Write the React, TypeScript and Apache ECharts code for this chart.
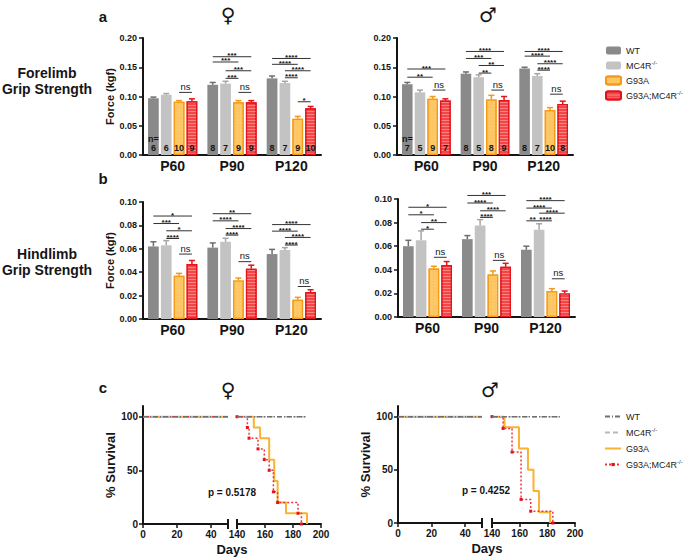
import React, { useEffect, useRef } from 'react';
import * as echarts from 'echarts';

const groups = ['P60', 'P90', 'P120'];
const genotypes = ['WT', 'MC4R', 'G93A', 'G93A;MC4R'];
const survNames = ['WT (survival)', 'MC4R (survival)', 'G93A (survival)', 'G93A;MC4R (survival)'];

// Forelimb grip strength, female: [WT, MC4R, G93A, G93A;MC4R] x [P60, P90, P120]
const foreFemaleMean = [[0.097, 0.120, 0.131], [0.103, 0.122, 0.123], [0.091, 0.090, 0.062], [0.092, 0.090, 0.080]];
const foreFemaleErr = [[0.002, 0.004, 0.004], [0.002, 0.004, 0.003], [0.002, 0.003, 0.004], [0.004, 0.003, 0.003]];
const foreFemaleN = [[6, 8, 8], [6, 7, 7], [10, 9, 9], [9, 9, 10]];
const foreFemaleSig: [number, number, number, number, string][] = [
  [0, 2, 3, 0.107, 'ns'],
  [1, 0, 3, 0.168, '***'], [1, 0, 2, 0.159, '***'], [1, 1, 3, 0.144, '***'], [1, 1, 2, 0.131, '***'], [1, 2, 3, 0.107, 'ns'],
  [2, 0, 3, 0.165, '****'], [2, 0, 2, 0.155, '****'], [2, 1, 3, 0.144, '****'], [2, 1, 2, 0.132, '****'], [2, 2, 3, 0.091, '*'],
];

// Forelimb grip strength, male
const foreMaleMean = [[0.121, 0.139, 0.148], [0.107, 0.133, 0.135], [0.096, 0.095, 0.077], [0.093, 0.094, 0.087]];
const foreMaleErr = [[0.003, 0.003, 0.002], [0.004, 0.004, 0.004], [0.004, 0.007, 0.004], [0.003, 0.006, 0.005]];
const foreMaleN = [[7, 8, 8], [5, 5, 7], [9, 8, 10], [7, 9, 8]];
const foreMaleSig: [number, number, number, number, string][] = [
  [0, 0, 3, 0.147, '***'], [0, 0, 2, 0.133, '**'], [0, 2, 3, 0.111, 'ns'],
  [1, 0, 3, 0.177, '****'], [1, 0, 2, 0.165, '***'], [1, 1, 3, 0.153, '**'], [1, 1, 2, 0.140, '**'], [1, 2, 3, 0.111, 'ns'],
  [2, 0, 3, 0.177, '****'], [2, 0, 2, 0.169, '****'], [2, 1, 3, 0.156, '****'], [2, 1, 2, 0.145, '****'], [2, 2, 3, 0.104, 'ns'],
];

// Hindlimb grip strength, female
const hindFemaleMean = [[0.062, 0.061, 0.0555], [0.063, 0.066, 0.059], [0.037, 0.033, 0.0165], [0.047, 0.043, 0.023]];
const hindFemaleErr = [[0.004, 0.004, 0.004], [0.004, 0.003, 0.002], [0.002, 0.002, 0.002], [0.003, 0.003, 0.002]];
const hindFemaleSig: [number, number, number, number, string][] = [
  [0, 0, 3, 0.088, '*'], [0, 0, 2, 0.0816, '***'], [0, 1, 3, 0.0754, '*'], [0, 1, 2, 0.0688, '****'], [0, 2, 3, 0.0555, 'ns'],
  [1, 0, 3, 0.090, '**'], [1, 0, 2, 0.0839, '****'], [1, 1, 3, 0.0773, '****'], [1, 1, 2, 0.0717, '****'], [1, 2, 3, 0.049, 'ns'],
  [2, 0, 3, 0.0807, '****'], [2, 0, 2, 0.0751, '****'], [2, 1, 3, 0.0697, '****'], [2, 1, 2, 0.0632, '****'], [2, 2, 3, 0.0278, 'ns'],
];

// Hindlimb grip strength, male
const hindMaleMean = [[0.060, 0.066, 0.057], [0.065, 0.0775, 0.074], [0.041, 0.036, 0.022], [0.044, 0.0425, 0.020]];
const hindMaleErr = [[0.005, 0.003, 0.003], [0.008, 0.005, 0.005], [0.002, 0.003, 0.002], [0.003, 0.003, 0.002]];
const hindMaleSig: [number, number, number, number, string][] = [
  [0, 0, 3, 0.093, '*'], [0, 0, 2, 0.0866, '*'], [0, 1, 3, 0.080, '**'], [0, 1, 2, 0.0744, '*'], [0, 2, 3, 0.0506, 'ns'],
  [1, 0, 3, 0.103, '***'], [1, 0, 2, 0.0966, '****'], [1, 1, 3, 0.090, '****'], [1, 1, 2, 0.0844, '****'], [1, 2, 3, 0.048, 'ns'],
  [2, 0, 3, 0.0986, '****'], [2, 0, 2, 0.0923, '****'], [2, 1, 3, 0.088, '****'], [2, 1, 2, 0.0815, '****'], [2, 0, 1, 0.0815, '**'], [2, 2, 3, 0.0324, 'ns'],
];

// Survival (days, % survival)
const survEarly = [[0, 100], [50, 100]];
const survFemaleCtrl = [[140, 100], [190, 100]];
const survFemaleG93A = [[140, 100], [152, 90], [156.5, 80], [163, 60], [166.6, 40], [169, 20], [175, 10], [190, 0]];
const survFemaleDbl = [[140, 100], [147.4, 90], [148.6, 80], [155, 70], [159.5, 60], [163, 50], [166, 30], [169, 20], [183.6, 10], [186, 0]];
const survMaleCtrl = [[140, 100], [189, 100]];
const survMaleG93A = [[140, 100], [149, 90], [159.5, 70], [166, 50], [170, 30], [174, 10], [182, 0]];
const survMaleDbl = [[140, 100], [148, 88.9], [154.5, 66.7], [161, 22.2], [168, 11.1], [184, 0]];

const FONT = "'Liberation Sans', Arial, Helvetica, sans-serif";
const INK = '#151515';
const CAT_GAP = 0.17;
const BAR_GAP = 0.2;

const barStyles: any[] = [
  { color: '#8a8a8a' },
  { color: '#c3c3c3' },
  {
    color: '#fcc15a', borderColor: '#f59a18', borderWidth: 1.2,
    decal: { symbol: 'rect', symbolSize: 1, dashArrayX: [1, 1], dashArrayY: [1, 1], color: 'rgba(255,235,170,0.55)', rotation: Math.PI / 4 },
  },
  {
    color: '#f34747', borderColor: '#e3131b', borderWidth: 1.2,
    decal: { symbol: 'rect', symbolSize: 1, dashArrayX: [1, 0], dashArrayY: [1, 2], color: 'rgba(255,170,170,0.6)' },
  },
];
const errColors = ['#6e6e6e', '#a6a6a6', '#f39818', '#e3131b'];

function barCenter(cx: number, bw: number, k: number) {
  const gw = bw * (1 - CAT_GAP);
  const w = gw / (4 + 3 * BAR_GAP);
  return cx - gw / 2 + k * w * (1 + BAR_GAP) + w / 2;
}

function barPanel(gi: number, means: number[][], errs: number[][], ns: number[][] | null, sig: [number, number, number, number, string][]) {
  const out: any[] = [];
  for (let k = 0; k < 4; k++) {
    out.push({
      name: genotypes[k], type: 'bar', xAxisIndex: gi, yAxisIndex: gi,
      data: means[k], barGap: '20%', barCategoryGap: '17%',
      itemStyle: barStyles[k],
      label: ns ? {
        show: true, position: 'insideBottom', distance: 3, fontSize: 9, fontWeight: 'bold', color: INK,
        fontFamily: FONT, lineHeight: 9,
        formatter: (p: any) => (k === 0 && p.dataIndex === 0 ? 'n=\n' : '') + ns[k][p.dataIndex],
      } : { show: false },
    });
  }
  const errData: number[][] = [];
  for (let k = 0; k < 4; k++) for (let g = 0; g < 3; g++) errData.push([g, k, means[k][g], errs[k][g]]);
  out.push({
    type: 'custom', xAxisIndex: gi, yAxisIndex: gi, z: 4, data: errData, encode: { x: 0, y: 2 },
    renderItem: (params: any, api: any) => {
      const g = api.value(0), k = api.value(1), m = api.value(2), e = api.value(3);
      const p0 = api.coord([g, m]);
      const p1 = api.coord([g, m + e]);
      const bw = api.size([1, 0])[0];
      const x = barCenter(p0[0], bw, k);
      return {
        type: 'group', children: [
          { type: 'line', shape: { x1: x, y1: p0[1], x2: x, y2: p1[1] }, style: { stroke: errColors[k], lineWidth: 1.5 } },
          { type: 'line', shape: { x1: x - 3, y1: p1[1], x2: x + 3, y2: p1[1] }, style: { stroke: errColors[k], lineWidth: 1.5 } },
        ],
      };
    },
  });
  out.push({
    type: 'custom', xAxisIndex: gi, yAxisIndex: gi, z: 4, clip: false,
    data: sig.map((s) => [s[0], s[1], s[2], s[3]]), encode: { x: 0, y: 3 },
    renderItem: (params: any, api: any) => {
      const g = api.value(0), i = api.value(1), j = api.value(2), y = api.value(3);
      const label = sig[params.dataIndex][4];
      const c = api.coord([g, y]);
      const bw = api.size([1, 0])[0];
      const x1 = barCenter(c[0], bw, i);
      const x2 = barCenter(c[0], bw, j);
      const isNs = label === 'ns';
      return {
        type: 'group', children: [
          { type: 'line', shape: { x1, y1: c[1], x2, y2: c[1] }, style: { stroke: '#333', lineWidth: 1 } },
          {
            type: 'text', x: (x1 + x2) / 2, y: isNs ? c[1] - 1 : c[1] + 2,
            style: {
              text: label, align: 'center', verticalAlign: 'bottom', fill: INK,
              fontSize: isNs ? 9.5 : 8, lineHeight: isNs ? 10 : 6,
              fontWeight: isNs ? 'normal' : 'bold', fontFamily: FONT,
            },
          },
        ],
      };
    },
  });
  return out;
}

function catX(gi: number) {
  return {
    type: 'category', gridIndex: gi, data: groups,
    axisLine: { lineStyle: { color: INK, width: 2 } },
    axisTick: { alignWithLabel: true, length: 4, lineStyle: { color: INK, width: 1.5 } },
    axisLabel: { fontSize: 14, fontWeight: 'bold', color: INK, fontFamily: FONT, margin: 4 },
  };
}

function barY(gi: number, max: number, interval: number, named: boolean) {
  return {
    type: 'value', gridIndex: gi, min: 0, max, interval,
    splitLine: { show: false },
    axisLine: { show: true, lineStyle: { color: INK, width: 2 } },
    axisTick: { show: true, length: 4, lineStyle: { color: INK, width: 1.5 } },
    axisLabel: { fontSize: 9, fontWeight: 'bold', color: INK, fontFamily: FONT, margin: 6, formatter: (v: number) => v.toFixed(2) },
    name: named ? 'Force (kgf)' : '', nameLocation: 'middle', nameGap: 26,
    nameTextStyle: { fontSize: 11, fontWeight: 'bold', color: INK, fontFamily: FONT },
  };
}

function survX(gi: number, min: number, max: number, ticks: number[], labels: number[]) {
  return {
    type: 'value', gridIndex: gi, min, max, interval: 20,
    splitLine: { show: false },
    axisLine: { lineStyle: { color: INK, width: 2 } },
    axisTick: { show: true, length: 4, customValues: ticks, lineStyle: { color: INK, width: 1.5 } },
    axisLabel: { customValues: labels, fontSize: 10, fontWeight: 'bold', color: INK, fontFamily: FONT, margin: 5 },
  };
}

function survY(gi: number, show: boolean) {
  return {
    type: 'value', gridIndex: gi, min: 0, max: 110, show,
    splitLine: { show: false },
    axisLine: { show: true, lineStyle: { color: INK, width: 2 } },
    axisTick: { show: true, length: 4, customValues: [0, 50, 100], lineStyle: { color: INK, width: 1.5 } },
    axisLabel: { customValues: [0, 50, 100], fontSize: 10, fontWeight: 'bold', color: INK, fontFamily: FONT, margin: 5 },
    name: show ? '% Survival' : '', nameLocation: 'middle', nameGap: 20,
    nameTextStyle: { fontSize: 13, fontWeight: 'bold', color: INK, fontFamily: FONT },
  };
}

const survStyles: any[] = [
  { color: '#6f6f6f', lineStyle: { color: '#6f6f6f', width: 1.5, type: [5, 2, 1, 2] }, symbol: 'none' },
  { color: '#b9b9b9', lineStyle: { color: '#b9b9b9', width: 1.5, type: [5, 3] }, symbol: 'none' },
  { color: '#f9b233', lineStyle: { color: '#f9b233', width: 2, type: 'solid' }, symbol: 'none' },
  { color: '#e3131b', lineStyle: { color: '#e8383d', width: 1.5, type: [2, 2] }, symbol: 'rect', symbolSize: 3 },
];

function survPanel(giLeft: number, giRight: number, ctrl: number[][], g93a: number[][], dbl: number[][]) {
  const out: any[] = [];
  const order = [2, 3, 1, 0];
  for (const k of order) {
    const st = survStyles[k];
    out.push({
      name: survNames[k], type: 'line', xAxisIndex: giLeft, yAxisIndex: giLeft, data: survEarly,
      lineStyle: st.lineStyle, itemStyle: { color: st.color }, symbol: st.symbol, showSymbol: false, z: 2 + (k < 2 ? 1 : 0),
    });
  }
  const rightData = [ctrl, ctrl, g93a, dbl];
  for (const k of order) {
    const st = survStyles[k];
    out.push({
      name: survNames[k], type: 'line', xAxisIndex: giRight, yAxisIndex: giRight, data: rightData[k],
      step: k >= 2 ? 'end' : undefined,
      lineStyle: st.lineStyle, itemStyle: { color: st.color }, symbol: st.symbol, symbolSize: st.symbolSize || 0,
      showSymbol: k === 3, z: 2 + (k < 2 ? 1 : 0),
    });
  }
  const breakMark = (gi: number, xv: number) => ({
    type: 'custom', xAxisIndex: gi, yAxisIndex: gi, clip: false, z: 5, data: [[xv, 0]], encode: { x: 0, y: 1 },
    renderItem: (params: any, api: any) => {
      const p = api.coord([api.value(0), api.value(1)]);
      return { type: 'line', shape: { x1: p[0], y1: p[1] - 5, x2: p[0], y2: p[1] + 5 }, style: { stroke: INK, lineWidth: 2 } };
    },
  });
  out.push(breakMark(giLeft, 50));
  out.push(breakMark(giRight, 140));
  return out;
}

const legendFmt = (name: string) => {
  const base = name.replace(' (survival)', '');
  if (base === 'MC4R') return 'MC4R{sup|-/-}';
  if (base === 'G93A;MC4R') return 'G93A;MC4R{sup|-/-}';
  return base;
};
const legendText = {
  fontSize: 9, fontFamily: FONT, color: '#222', lineHeight: 11,
  rich: { sup: { fontSize: 6, verticalAlign: 'top', lineHeight: 11, fontFamily: FONT, color: '#222', padding: [0, 0, 4, 0] } },
};

function txt(text: string, x: number, y: number, size: number, weight = 'bold', family = FONT) {
  return {
    type: 'text', x, y, silent: true,
    style: { text, fontSize: size, fontWeight: weight, fontFamily: family, fill: INK, align: 'center', verticalAlign: 'middle' },
  };
}

export default function App() {
  const ref = useRef<HTMLDivElement>(null);
  useEffect(() => {
    if (!ref.current) return;
    const chart = echarts.init(ref.current, null, { renderer: 'svg' });
    const SYM = "'DejaVu Sans', sans-serif";
    const option: any = {
      animation: false,
      backgroundColor: '#ffffff',
      grid: [
        { left: 143, top: 38, width: 178, height: 117 },
        { left: 397, top: 38, width: 176, height: 117 },
        { left: 143, top: 202, width: 178, height: 117 },
        { left: 398, top: 199, width: 177, height: 118 },
        { left: 143, top: 406, width: 85, height: 118 },
        { left: 237, top: 406, width: 84, height: 118 },
        { left: 398, top: 406, width: 84, height: 117 },
        { left: 492, top: 406, width: 83, height: 117 },
      ],
      xAxis: [
        catX(0), catX(1), catX(2), catX(3),
        survX(4, 0, 50, [0, 20, 40], [0, 20, 40]),
        survX(5, 140, 200, [160, 180, 200], [140, 160, 180, 200]),
        survX(6, 0, 50, [0, 20, 40], [0, 20, 40]),
        survX(7, 140, 200, [160, 180, 200], [140, 160, 180, 200]),
      ],
      yAxis: [
        barY(0, 0.2, 0.05, true), barY(1, 0.2, 0.05, false),
        barY(2, 0.1, 0.02, true), barY(3, 0.1, 0.02, false),
        survY(4, true), survY(5, false), survY(6, true), survY(7, false),
      ],
      legend: [
        {
          left: 600, top: 40, orient: 'vertical', itemWidth: 15, itemHeight: 8, itemGap: 4,
          data: genotypes, formatter: legendFmt, textStyle: legendText, selectedMode: false,
        },
        {
          left: 599, top: 406, orient: 'vertical', itemWidth: 16, itemHeight: 4, itemGap: 5,
          data: [
            { name: survNames[0], itemStyle: { opacity: 0 } },
            { name: survNames[1], itemStyle: { opacity: 0 } },
            { name: survNames[2], itemStyle: { opacity: 0 } },
            { name: survNames[3] },
          ],
          formatter: legendFmt, textStyle: legendText, selectedMode: false,
        },
      ],
      series: [
        ...barPanel(0, foreFemaleMean, foreFemaleErr, foreFemaleN, foreFemaleSig),
        ...barPanel(1, foreMaleMean, foreMaleErr, foreMaleN, foreMaleSig),
        ...barPanel(2, hindFemaleMean, hindFemaleErr, null, hindFemaleSig),
        ...barPanel(3, hindMaleMean, hindMaleErr, null, hindMaleSig),
        ...survPanel(4, 5, survFemaleCtrl, survFemaleG93A, survFemaleDbl),
        ...survPanel(6, 7, survMaleCtrl, survMaleG93A, survMaleDbl),
      ],
      graphic: [
        txt('a', 103, 16, 15),
        txt('\u2640', 228, 15, 20, 'normal', SYM),
        txt('\u2642', 488, 15, 20, 'normal', SYM),
        txt('b', 103, 178, 15),
        txt('c', 103, 387, 15),
        txt('\u2640', 228, 390, 20, 'normal', SYM),
        txt('\u2642', 490, 390, 20, 'normal', SYM),
        txt('Forelimb', 47, 73, 14),
        txt('Grip Strength', 47, 89, 14),
        txt('Hindlimb', 47, 254, 14),
        txt('Grip Strength', 47, 270, 14),
        txt('p = 0.5178', 232, 492, 10),
        txt('p = 0.4252', 486, 490, 10),
        txt('Days', 232, 549, 13),
        txt('Days', 487, 548, 13),
      ],
    };
    chart.setOption(option);
    return () => chart.dispose();
  }, []);
  return <div ref={ref} style={{ position: 'absolute', left: 0, top: 0, width: 685, height: 559 }} />;
}
